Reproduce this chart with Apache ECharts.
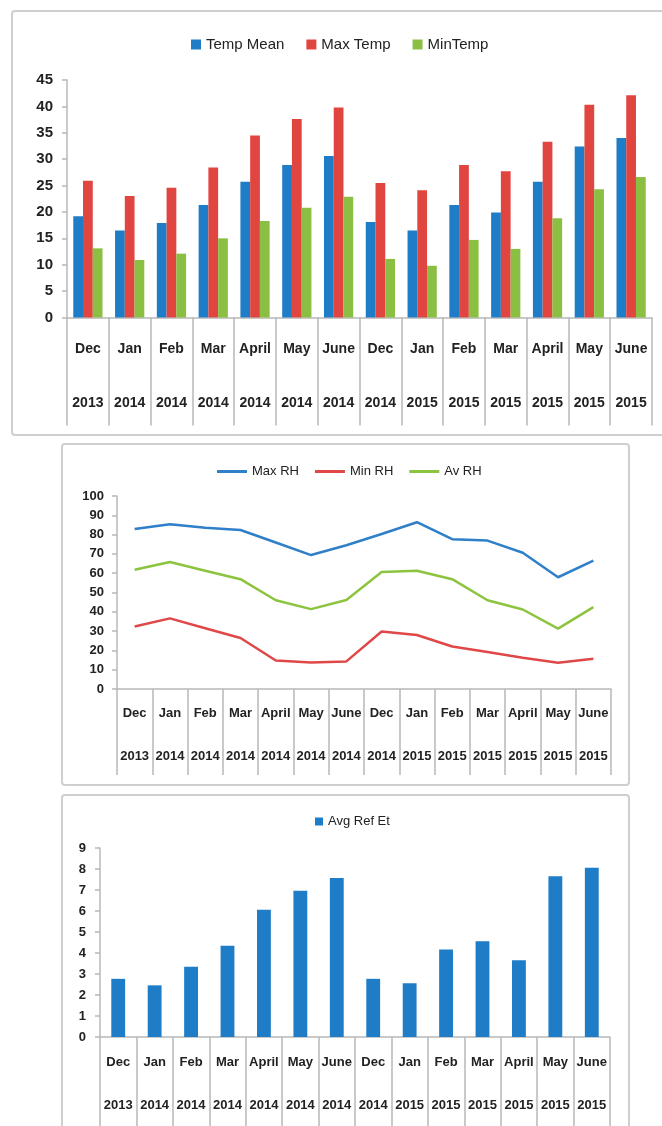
<!DOCTYPE html>
<html>
<head>
<meta charset="utf-8">
<script src="https://cdn.jsdelivr.net/npm/echarts@6/dist/echarts.min.js"></script>
<style>
html,body{margin:0;padding:0;background:#fff;}
#c{width:662px;height:1126px;}
</style>
</head>
<body>
<div id="c"></div>
<script>
// ---- data ----
const months = ['Dec','Jan','Feb','Mar','April','May','June','Dec','Jan','Feb','Mar','April','May','June'];
const years  = ['2013','2014','2014','2014','2014','2014','2014','2014','2015','2015','2015','2015','2015','2015'];

const tempMean = [19.2,16.5,17.9,21.3,25.7,28.9,30.6,18.1,16.5,21.3,19.9,25.7,32.4,34.0];
const maxTemp  = [25.9,23.0,24.6,28.4,34.5,37.6,39.8,25.5,24.1,28.9,27.7,33.3,40.3,42.1];
const minTemp  = [13.1,10.9,12.1,15.0,18.3,20.8,22.9,11.1,9.8,14.7,13.0,18.8,24.3,26.6];

const maxRH = [82.9,85.4,83.6,82.4,75.9,69.4,74.5,80.3,86.4,77.6,76.9,70.6,57.9,66.5];
const minRH = [32.4,36.6,31.5,26.4,14.8,13.7,14.3,29.8,28.0,22.0,19.2,16.2,13.6,15.7];
const avRH  = [61.8,65.8,61.3,56.9,46.0,41.4,46.1,60.6,61.3,56.9,46.0,41.2,31.3,42.4];

const avgRefEt = [2.77,2.46,3.35,4.34,6.06,6.96,7.57,2.77,2.56,4.17,4.56,3.66,7.66,8.06];

// ---- styles ----
const FONT = "'Liberation Sans Narrow','Liberation Sans',sans-serif";
const BLUE = '#1f7cc6', RED = '#e0453f', GREEN = '#8bbf44';
const LBLUE = '#2f7fc9', LRED = '#e04848', LGREEN = '#8cc43f';
const AXIS_C = '#b8b8b8';

function xAxes(grid, monthMargin, yearMargin, tickLen, fs) {
  return [
    {
      type: 'category', gridIndex: grid, position: 'bottom', data: months,
      axisLine: { show: true, lineStyle: { color: AXIS_C, width: 1.5 } },
      axisTick: { show: true, length: tickLen, interval: 0, lineStyle: { color: AXIS_C, width: 1.5 } },
      axisLabel: { interval: 0, margin: monthMargin, fontFamily: FONT, fontWeight: 'bold', fontSize: fs, color: '#222' }
    },
    {
      type: 'category', gridIndex: grid, position: 'bottom', data: years,
      axisLine: { show: false }, axisTick: { show: false },
      axisLabel: { interval: 0, margin: yearMargin, fontFamily: FONT, fontWeight: 'bold', fontSize: fs, color: '#222' }
    }
  ];
}
function yAxis(grid, max, interval, margin, fs) {
  return {
    type: 'value', gridIndex: grid, min: 0, max: max, interval: interval,
    axisLine: { show: true, lineStyle: { color: AXIS_C, width: 1.5 } },
    axisTick: { show: true, length: 5, lineStyle: { color: AXIS_C, width: 1.5 } },
    splitLine: { show: false },
    axisLabel: { margin: margin, fontFamily: FONT, fontWeight: 'bold', fontSize: fs, color: '#222' }
  };
}

const chart = echarts.init(document.getElementById('c'), null, { renderer: 'canvas' });
chart.setOption({
  animation: false,
  backgroundColor: '#fff',
  graphic: [
    { type: 'rect', shape: { x: 12, y: 11, width: 670, height: 424, r: 3 }, style: { fill: 'none', stroke: '#cfcfcf', lineWidth: 2 }, z: -1 },
    { type: 'rect', shape: { x: 62, y: 444, width: 567, height: 341, r: 3 }, style: { fill: 'none', stroke: '#cfcfcf', lineWidth: 2 }, z: -1 },
    { type: 'rect', shape: { x: 62, y: 795, width: 567, height: 345, r: 3 }, style: { fill: 'none', stroke: '#cfcfcf', lineWidth: 2 }, z: -1 }
  ],
  legend: [
    { top: 32, left: 186, itemWidth: 10, itemHeight: 10, itemGap: 22, icon: 'rect',
      textStyle: { fontFamily: FONT, fontSize: 15, color: '#222' },
      data: ['Temp Mean', 'Max Temp', 'MinTemp'] },
    { top: 460, left: 212, itemWidth: 30, itemHeight: 3, itemGap: 16, icon: 'rect',
      textStyle: { fontFamily: FONT, fontSize: 13, color: '#222' },
      data: ['Max RH', 'Min RH', 'Av RH'] },
    { top: 810, left: 310, itemWidth: 8, itemHeight: 8, icon: 'rect',
      textStyle: { fontFamily: FONT, fontSize: 13, color: '#222' },
      data: ['Avg Ref Et'] }
  ],
  grid: [
    { left: 67, top: 80, width: 585, height: 237.5 },
    { left: 117, top: 496, width: 494, height: 193 },
    { left: 100, top: 848, width: 510, height: 189 }
  ],
  xAxis: [].concat(
    xAxes(0, 25, 79, 108, 14),
    xAxes(1, 18, 61, 86, 13),
    xAxes(2, 19, 62, 95, 13)
  ),
  yAxis: [
    yAxis(0, 45, 5, 14, 15),
    yAxis(1, 100, 10, 13, 13),
    yAxis(2, 9, 1, 14, 13)
  ],
  series: [
    { name: 'Temp Mean', type: 'bar', xAxisIndex: 0, yAxisIndex: 0, data: tempMean, itemStyle: { color: BLUE }, barGap: '0%', barCategoryGap: '30%' },
    { name: 'Max Temp', type: 'bar', xAxisIndex: 0, yAxisIndex: 0, data: maxTemp, itemStyle: { color: RED }, barGap: '0%', barCategoryGap: '30%' },
    { name: 'MinTemp', type: 'bar', xAxisIndex: 0, yAxisIndex: 0, data: minTemp, itemStyle: { color: GREEN }, barGap: '0%', barCategoryGap: '30%' },

    { name: 'Max RH', type: 'line', xAxisIndex: 2, yAxisIndex: 1, data: maxRH, symbol: 'none', lineStyle: { color: LBLUE, width: 2.5 }, itemStyle: { color: LBLUE } },
    { name: 'Min RH', type: 'line', xAxisIndex: 2, yAxisIndex: 1, data: minRH, symbol: 'none', lineStyle: { color: LRED, width: 2.5 }, itemStyle: { color: LRED } },
    { name: 'Av RH', type: 'line', xAxisIndex: 2, yAxisIndex: 1, data: avRH, symbol: 'none', lineStyle: { color: LGREEN, width: 2.5 }, itemStyle: { color: LGREEN } },

    { name: 'Avg Ref Et', type: 'bar', xAxisIndex: 4, yAxisIndex: 2, data: avgRefEt, itemStyle: { color: BLUE }, barCategoryGap: '62%' }
  ]
});
</script>
</body>
</html>
